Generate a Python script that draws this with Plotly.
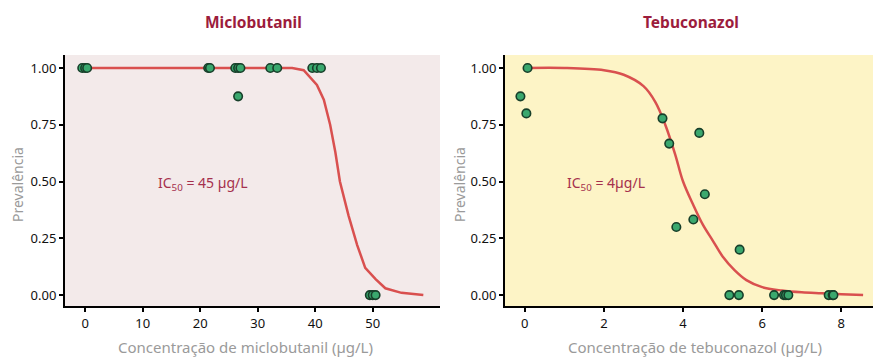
import plotly.graph_objects as go
from plotly.subplots import make_subplots

# ---- data: Miclobutanil ----
mic_x = [-0.5, 0.0, 0.35, 21.4, 21.7, 26.1, 26.6, 27.0, 32.2, 33.4, 39.5, 40.3, 41.0, 26.6, 49.5, 50.0, 50.5]
mic_y = [1.0, 1.0, 1.0, 1.0, 1.0, 1.0, 1.0, 1.0, 1.0, 1.0, 1.0, 1.0, 1.0, 0.875, 0.0, 0.0, 0.0]
mic_fit_x = [0, 36, 38, 40.3, 41.5, 42.6, 43.5, 44.3, 45.8, 47.3, 48.7, 50.5, 52.2, 55, 58.8]
mic_fit_y = [1.0, 1.0, 0.99, 0.925, 0.86, 0.75, 0.63, 0.5, 0.35, 0.22, 0.12, 0.07, 0.03, 0.01, 0.0]

# ---- data: Tebuconazol ----
teb_x = [0.07, -0.11, 0.04, 3.48, 3.65, 4.41, 4.55, 4.26, 3.83, 5.43, 5.17, 5.41, 6.30, 6.55, 6.60, 6.66, 7.68, 7.78, 7.80]
teb_y = [1.0, 0.875, 0.80, 0.778, 0.667, 0.714, 0.444, 0.333, 0.30, 0.20, 0.0, 0.0, 0.0, 0.0, 0.0, 0.0, 0.0, 0.0, 0.0]
teb_fit_x = [0.07, 1.0, 2.0, 2.5, 3.0, 3.3, 3.55, 3.8, 4.0, 4.25, 4.5, 4.75, 5.0, 5.3, 5.6, 6.0, 6.5, 7.0, 7.5, 8.0, 8.55]
teb_fit_y = [1.0, 1.0, 0.99, 0.97, 0.92, 0.85, 0.75, 0.62, 0.5, 0.4, 0.31, 0.24, 0.17, 0.11, 0.066, 0.035, 0.02, 0.012, 0.008, 0.004, 0.0]

titles = ["Miclobutanil", "Tebuconazol"]
x_titles = ["Concentração de miclobutanil (µg/L)", "Concentração de tebuconazol (µg/L)"]
ic50_labels = ["IC<sub>50</sub> = 45 µg/L", "IC<sub>50</sub> = 4µg/L"]
y_ticks = [0, 0.25, 0.5, 0.75, 1.0]
mic_xticks = [0, 10, 20, 30, 40, 50]
teb_xticks = [0, 2, 4, 6, 8]

FONT = "Noto Sans"
RED = "#d9504f"
TITLE_RED = "#9c1c3c"
GREY = "#9a9a9a"
GREEN = "#3aa86e"
DARK = "#173f2a"

W, H = 873, 358
fig = make_subplots(rows=1, cols=2)

# left panel
fig.add_trace(go.Scatter(x=mic_fit_x, y=mic_fit_y, mode="lines",
                         line=dict(color=RED, width=2.5), hoverinfo="skip"), 1, 1)
fig.add_trace(go.Scatter(x=mic_x, y=mic_y, mode="markers",
                         marker=dict(size=8.5, color=GREEN, line=dict(color=DARK, width=1.6))), 1, 1)
# right panel
fig.add_trace(go.Scatter(x=teb_fit_x, y=teb_fit_y, mode="lines", line_shape="spline",
                         line=dict(color=RED, width=2.5), hoverinfo="skip"), 1, 2)
fig.add_trace(go.Scatter(x=teb_x, y=teb_y, mode="markers",
                         marker=dict(size=8.5, color=GREEN, line=dict(color=DARK, width=1.6))), 1, 2)

ydom = [1 - 306 / H, 1 - 55 / H]
xdom1 = [65 / W, 440 / W]
xdom2 = [505 / W, 1.0]

axis_common = dict(showgrid=False, zeroline=False, showline=True, linecolor="black",
                   linewidth=2, ticks="outside", ticklen=4, tickwidth=1.5, tickcolor="black",
                   tickfont=dict(family=FONT, size=13, color="#111"))

fig.update_layout(
    xaxis=dict(domain=xdom1, range=[-3.5, 61.7], tickvals=mic_xticks, **axis_common),
    yaxis=dict(domain=ydom, range=[-0.048, 1.057], tickvals=y_ticks, tickformat=".2f", **axis_common),
    xaxis2=dict(domain=xdom2, range=[-0.5, 8.8], tickvals=teb_xticks, **axis_common),
    yaxis2=dict(domain=ydom, range=[-0.048, 1.057], tickvals=y_ticks, tickformat=".2f", **axis_common),
)

fig.add_shape(type="rect", xref="x domain", yref="y domain", x0=0, x1=1, y0=0, y1=1,
              fillcolor="#f3eaea", line_width=0, layer="below")
fig.add_shape(type="rect", xref="x2 domain", yref="y2 domain", x0=0, x1=1, y0=0, y1=1,
              fillcolor="#fdf4c6", line_width=0, layer="below")

anns = []
# panel titles
for t, xc in zip(titles, [253 / W, 691 / W]):
    anns.append(dict(text=f"<b>{t}</b>", x=xc, y=1 - 22 / H, xref="paper", yref="paper",
                     xanchor="center", yanchor="middle",
                     showarrow=False, font=dict(family=FONT, size=15.5, color=TITLE_RED)))
# x-axis titles
for t, xc in zip(x_titles, [245 / W, 695 / W]):
    anns.append(dict(text=t, x=xc, y=1 - 347 / H, xref="paper", yref="paper",
                     xanchor="center", yanchor="middle",
                     showarrow=False, font=dict(family=FONT, size=15, color=GREY)))
# y-axis titles
for xc in [17 / W, 459 / W]:
    anns.append(dict(text="Prevalência", x=xc, y=1 - 185 / H, xref="paper", yref="paper",
                     xanchor="center", yanchor="middle",
                     showarrow=False, textangle=-90, font=dict(family=FONT, size=14, color=GREY)))
# IC50 labels
anns.append(dict(text=ic50_labels[0], x=20.5, y=0.49, xref="x", yref="y", showarrow=False,
                 xanchor="center", yanchor="middle",
                 font=dict(family=FONT, size=14, color="#a5304d")))
anns.append(dict(text=ic50_labels[1], x=2.06, y=0.49, xref="x2", yref="y2", showarrow=False,
                 xanchor="center", yanchor="middle",
                 font=dict(family=FONT, size=14, color="#a5304d")))

fig.update_layout(
    width=W, height=H, margin=dict(l=0, r=0, t=0, b=0),
    paper_bgcolor="white", plot_bgcolor="rgba(0,0,0,0)",
    showlegend=False, annotations=anns,
    font=dict(family=FONT),
)

fig.write_html("out.html", config={"displayModeBar": False},
               post_script="document.body.style.margin='0';document.body.style.overflow='hidden';")
